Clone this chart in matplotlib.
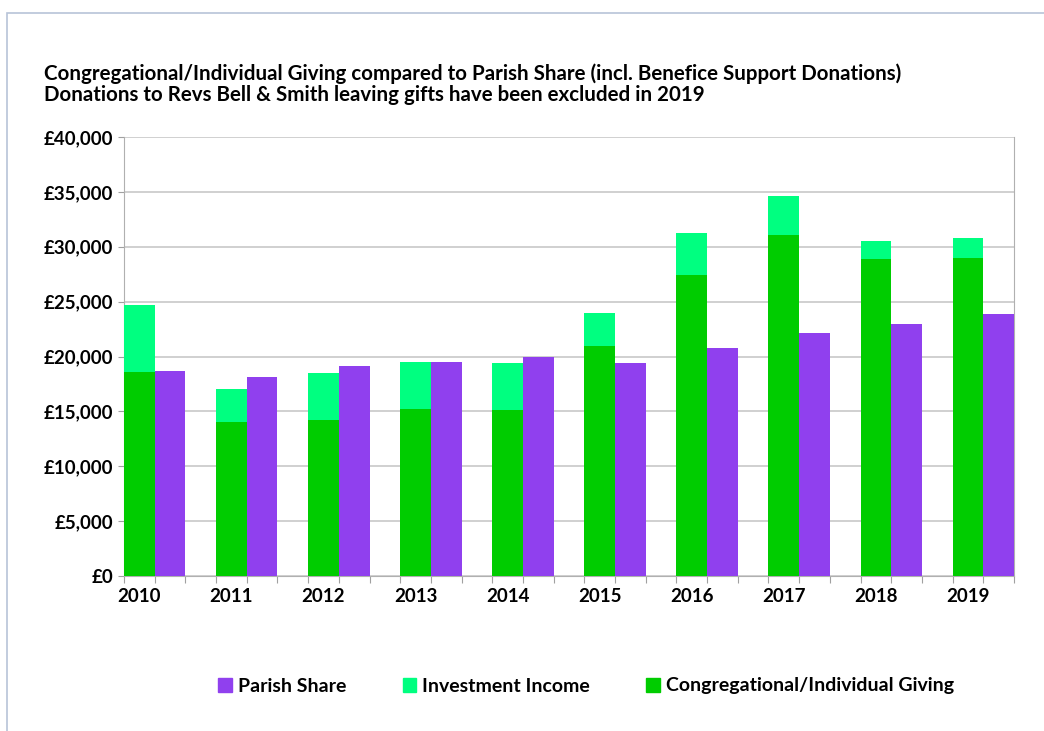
import matplotlib.pyplot as plt
from matplotlib.patches import Patch, Rectangle
import numpy as np

years = ['2010', '2011', '2012', '2013', '2014', '2015', '2016', '2017', '2018', '2019']
giving = [18600, 14050, 14200, 15200, 15100, 20950, 27400, 31050, 28880, 28970]
giving_total = [24700, 17050, 18500, 19500, 19400, 23950, 31250, 34600, 30520, 30800]
investment = [t - g for t, g in zip(giving_total, giving)]
parish_share = [18670, 18130, 19130, 19500, 19950, 19400, 20800, 22140, 22960, 23870]

green = '#00cc00'
light_green = '#00ff80'
purple = '#9040ee'

plt.rcParams['font.family'] = ['Lato', 'DejaVu Sans']

fig = plt.figure(figsize=(10.44, 7.31), dpi=100)
ax = fig.add_axes([124 / 1044, 1 - 576 / 731, 890 / 1044, 439 / 731])

# border around the chart area
fig.patches.append(Rectangle((7 / 1044, -0.1), 1.2, (731 - 13) / 731 + 0.1,
                             transform=fig.transFigure, fill=False,
                             edgecolor='#b8c4d8', linewidth=1.2))

# each year takes three slots: giving, parish share, empty
x = np.arange(len(years)) * 3
ax.bar(x + 0.5, giving, width=1.0, color=green, zorder=3)
ax.bar(x + 0.5, investment, width=1.0, bottom=giving, color=light_green, zorder=3)
ax.bar(x + 1.5, parish_share, width=1.0, color=purple, zorder=3)

ax.set_xlim(0, 29)
ax.set_ylim(0, 40000)

ax.set_xticks(np.arange(0, 30), minor=False)
ax.set_xticklabels([])
ax.set_xticks(x + 0.5, minor=True)
ax.set_xticklabels(years, minor=True, fontsize=13.5, fontweight='bold')
ax.tick_params(axis='x', which='major', length=5, color='#a0a0a0', direction='out')
ax.tick_params(axis='x', which='minor', length=0, pad=9)

yticks = np.arange(0, 40001, 5000)
ax.set_yticks(yticks)
ax.set_yticklabels(['£{:,}'.format(v) for v in yticks], fontsize=13.5, fontweight='bold')
ax.tick_params(axis='y', length=4, color='#a0a0a0', pad=4)

ax.yaxis.grid(True, color='#c8c8c8', linewidth=1.2, zorder=0)
ax.set_axisbelow(True)
for side in ['left', 'bottom', 'right']:
    ax.spines[side].set_color('#b0b0b0')
ax.spines['top'].set_visible(False)

fig.text(44 / 1044, 1 - 74 / 731,
         'Congregational/Individual Giving compared to Parish Share (incl. Benefice Support Donations)',
         fontsize=14.8, fontweight='bold', va='center', ha='left')
fig.text(44 / 1044, 1 - 95 / 731,
         'Donations to Revs Bell & Smith leaving gifts have been excluded in 2019',
         fontsize=14.8, fontweight='bold', va='center', ha='left')

handles = [Patch(color=purple, label='Parish Share'),
           Patch(color=light_green, label='Investment Income'),
           Patch(color=green, label='Congregational/Individual Giving')]
fig.legend(handles=handles, loc='center', bbox_to_anchor=(586 / 1044, 1 - 686 / 731),
           ncol=3, frameon=False, prop={'size': 14, 'weight': 'bold'},
           handlelength=0.7, handleheight=0.7, handletextpad=0.3, columnspacing=2.9)

fig.savefig('out.png', dpi=100)
